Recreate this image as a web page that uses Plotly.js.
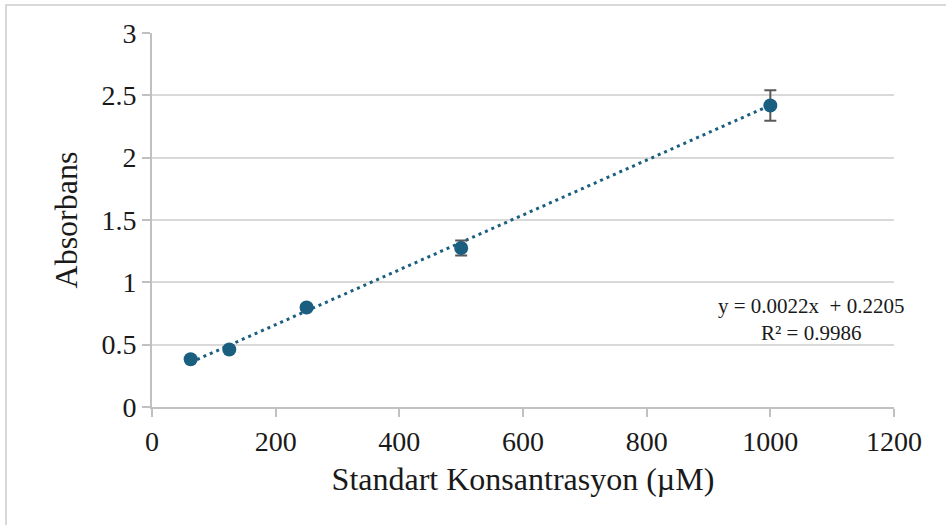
<!DOCTYPE html>
<html>
<head>
<meta charset="utf-8">
<script src="https://cdn.plot.ly/plotly-3.0.1.min.js"></script>
<style>
  html, body { margin: 0; padding: 0; background: #fff; overflow: hidden; }
  #wrap { position: relative; width: 946px; height: 525px; overflow: hidden; }
  #frame { position: absolute; left: 5px; top: 4px; width: 980px; height: 560px; border: 2px solid #d9d9d9; box-sizing: border-box; pointer-events: none; }
  #chart { position: absolute; left: 0; top: 0; width: 946px; height: 525px; }
</style>
</head>
<body>
<div id="wrap">
  <div id="chart"></div>
  <div id="frame"></div>
</div>
<script>
// Data
const concentrations = [62.5, 125, 250, 500, 1000];           // µM
const absorbance     = [0.383, 0.461, 0.798, 1.275, 2.418];
const errors         = [0.008, 0.010, 0.022, 0.060, 0.122];
// Trendline shown on the chart
const slope = 0.0022;
const intercept = 0.2205;
const rSquared = 0.9986;
const xTicks = [0, 200, 400, 600, 800, 1000, 1200];
const yTicks = [0, 0.5, 1, 1.5, 2, 2.5, 3];

const trendX = [concentrations[0], concentrations[concentrations.length - 1]];
const trendY = trendX.map(x => slope * x + intercept);

const color = '#1a5f80';
const serif = 'Liberation Serif, Times New Roman, serif';

const traces = [
  {
    x: trendX, y: trendY, type: 'scatter', mode: 'lines',
    line: { color: color, width: 3, dash: '3px,4px' },
    hoverinfo: 'skip'
  },
  {
    x: concentrations, y: absorbance, type: 'scatter', mode: 'markers',
    marker: { color: color, size: 14 },
    error_y: { type: 'data', array: errors, visible: true, color: '#595959', thickness: 2, width: 6 }
  }
];

const layout = {
  width: 946, height: 525,
  margin: { l: 152, r: 52, t: 33, b: 118 },
  paper_bgcolor: 'rgba(0,0,0,0)', plot_bgcolor: 'rgba(0,0,0,0)',
  showlegend: false,
  font: { family: serif, color: '#1a1a1a' },
  xaxis: {
    range: [0, 1200], tickvals: xTicks, ticktext: xTicks.map(String),
    showgrid: false, zeroline: false,
    showline: true, linecolor: '#c0c0c0', linewidth: 2,
    ticks: 'outside', ticklen: 8, tickcolor: '#c0c0c0', tickwidth: 2,
    tickfont: { family: serif, size: 28, color: '#1a1a1a' },
    title: { text: 'Standart Konsantrasyon (µM)', font: { family: serif, size: 32, color: '#1a1a1a' }, standoff: 12 }
  },
  yaxis: {
    range: [0, 3], tickvals: yTicks, ticktext: yTicks.map(String),
    showgrid: true, gridcolor: '#d9d9d9', gridwidth: 2, zeroline: false,
    showline: true, linecolor: '#c0c0c0', linewidth: 2,
    ticks: 'outside', ticklen: 8, tickcolor: '#c0c0c0', tickwidth: 2,
    tickfont: { family: serif, size: 28, color: '#1a1a1a' },
    title: { text: 'Absorbans', font: { family: serif, size: 32, color: '#1a1a1a' }, standoff: 14 }
  },
  annotations: [
    {
      xref: 'x', yref: 'y', x: 1065, y: 0.70, showarrow: false,
      text: 'y = 0.0022x  + 0.2205<br>R² = 0.9986',
      align: 'center', font: { family: serif, size: 21, color: '#1a1a1a' }
    }
  ]
};

Plotly.newPlot('chart', traces, layout, { displayModeBar: false, staticPlot: true });
</script>
</body>
</html>
